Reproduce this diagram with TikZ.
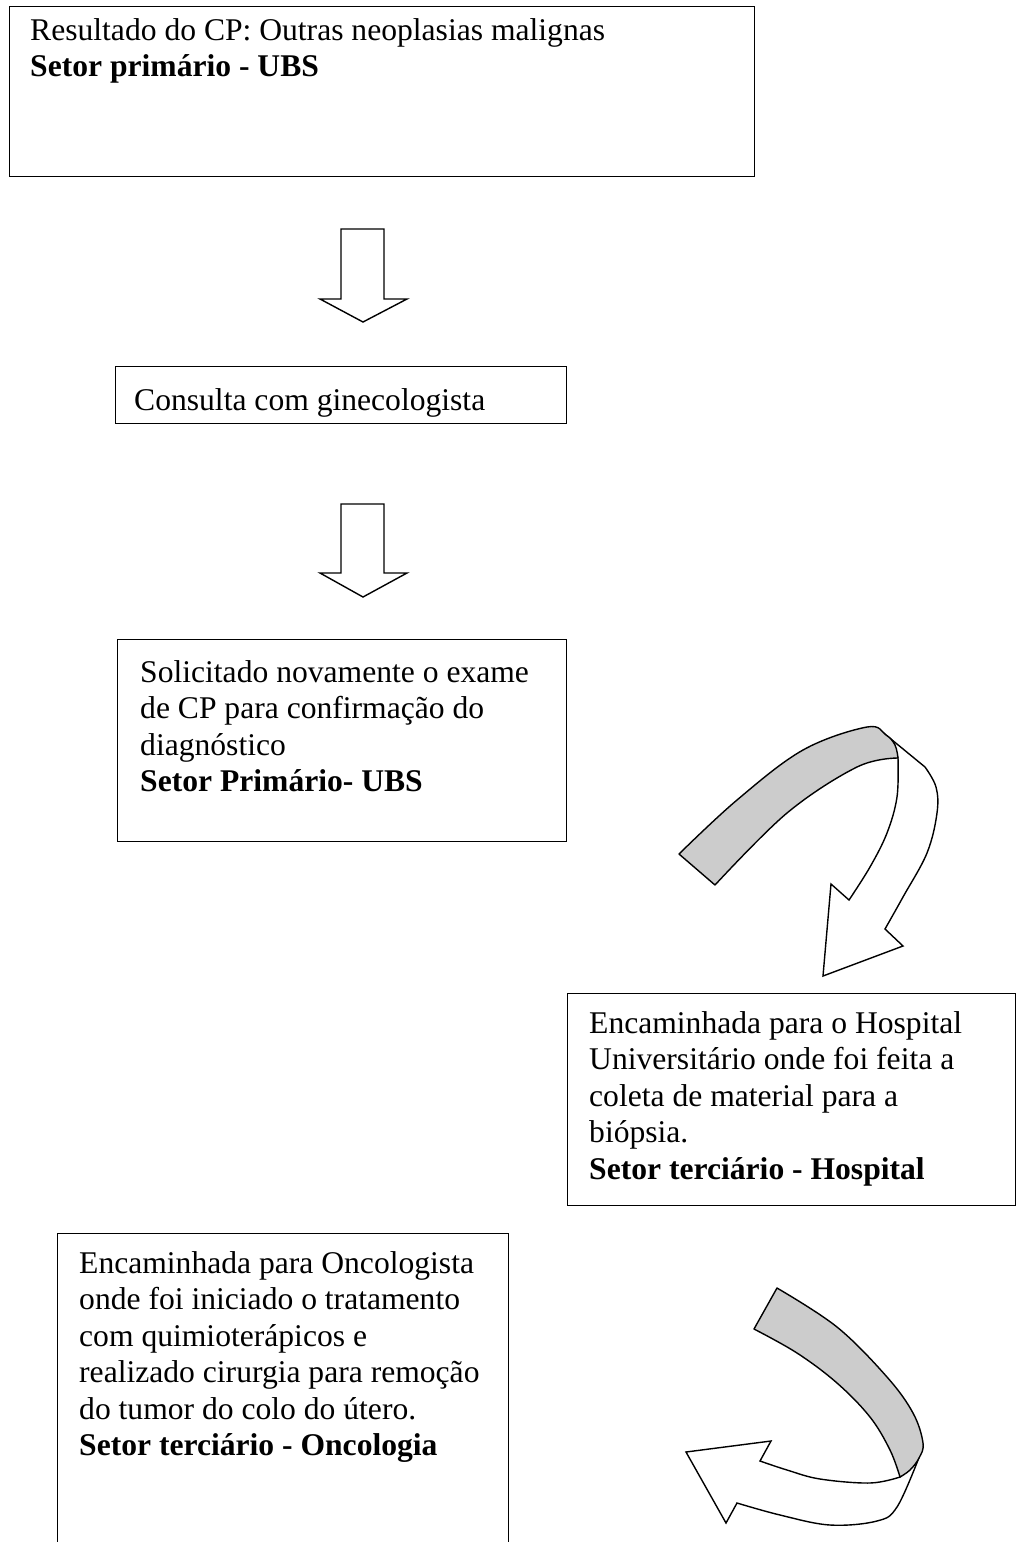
\documentclass[tikz,border=0pt]{standalone}
\usepackage{fontspec}
\setmainfont{Liberation Serif}
\definecolor{bandgray}{RGB}{204,204,204}
\begin{document}
\begin{tikzpicture}[x=1pt,y=-1pt,
  frame/.style={draw=black, line width=1.4pt, inner sep=0pt, anchor=north west},
  label/.style={anchor=north west, inner sep=0pt, align=left,
    font=\fontsize{31.6}{36.5}\selectfont},
  blockarrow/.style={draw=black, line width=1.4pt, fill=white, line join=miter},
  band/.style={draw=black, line width=1.4pt, fill=bandgray, line join=round},
  bandwhite/.style={draw=black, line width=1.4pt, fill=white, line join=miter}]
\useasboundingbox (0,0) rectangle (1017,1542);
\clip (0,0) rectangle (1017,1542);

% boxes
\node[frame, minimum width=745pt, minimum height=170pt] (b1) at (9,6) {};
\node[frame, minimum width=451pt, minimum height=57pt]  (b2) at (115,366) {};
\node[frame, minimum width=449pt, minimum height=202pt] (b3) at (117,639) {};
\node[frame, minimum width=448pt, minimum height=212pt] (b4) at (567,993) {};
\node[frame, minimum width=451pt, minimum height=330pt] (b5) at (57,1233) {};

% texts
\node[label] (t1) at ([shift={(21,8.5)}]b1.north west)
  {\strut Resultado do CP: Outras neoplasias malignas\\
   \textbf{Setor primário - UBS}};
\node[label] (t2) at ([shift={(19,18.5)}]b2.north west)
  {\strut Consulta com ginecologista};
\node[label] (t3) at ([shift={(23,17.5)}]b3.north west)
  {\strut Solicitado novamente o exame\\
   de CP para confirmação do\\
   diagnóstico\\
   \textbf{Setor Primário- UBS}};
\node[label] (t4) at ([shift={(22,14.5)}]b4.north west)
  {\strut Encaminhada para o Hospital\\
   Universitário onde foi feita a\\
   coleta de material para a\\
   biópsia.\\
   \textbf{Setor terciário - Hospital}};
\node[label] (t5) at ([shift={(22,14.5)}]b5.north west)
  {\strut Encaminhada para Oncologista\\
   onde foi iniciado o tratamento\\
   com quimioterápicos e\\
   realizado cirurgia para remoção\\
   do tumor do colo do útero.\\
   \textbf{Setor terciário - Oncologia}};

% straight block arrows
\draw[blockarrow] (341,229) -- (384,229) -- (384,299) -- (407,299)
  -- (363,322) -- (320,299) -- (341,299) -- cycle;
\draw[blockarrow] (341,504) -- (384,504) -- (384,573) -- (407,573)
  -- (363,597) -- (320,573) -- (341,573) -- cycle;

% curved arrow towards the hospital box
\draw[bandwhite] (886,735) -- (925,767)
  -- plot[smooth, tension=0.6] coordinates {(925,767) (936,787) (937,813) (927,853) (903,897) (885,929)}
  -- (903,946) -- (823,976) -- (831,884) -- (849,900)
  -- plot[smooth, tension=0.6] coordinates {(849,900) (870,867) (887,833) (897,797) (898,758)}
  -- cycle;
\draw[band] plot[smooth, tension=0.6] coordinates {(679,854) (737,800) (803,750) (867,727) (886,735) (895,745) (898,758)}
  -- plot[smooth, tension=0.6] coordinates {(898,758) (857,767) (787,813) (715,885)}
  -- cycle;

% curved arrow towards the oncology box
\draw[bandwhite] plot[smooth, tension=0.6] coordinates {(900,1477) (870,1483) (820,1479) (787,1470) (760,1461)}
  -- (771,1441) -- (686,1452) -- (726,1523) -- (737,1503)
  -- plot[smooth, tension=0.6] coordinates {(737,1503) (780,1515) (830,1525) (877,1521) (897,1507) (918,1460)}
  -- cycle;
\draw[band] plot[smooth, tension=0.6] coordinates {(777,1288) (837,1327) (887,1377) (913,1413) (923,1443) (919,1458) (910,1470) (900,1477)}
  -- plot[smooth, tension=0.6] coordinates {(900,1477) (890,1450) (870,1417) (837,1383) (797,1353) (754,1329)}
  -- cycle;
\end{tikzpicture}
\end{document}
